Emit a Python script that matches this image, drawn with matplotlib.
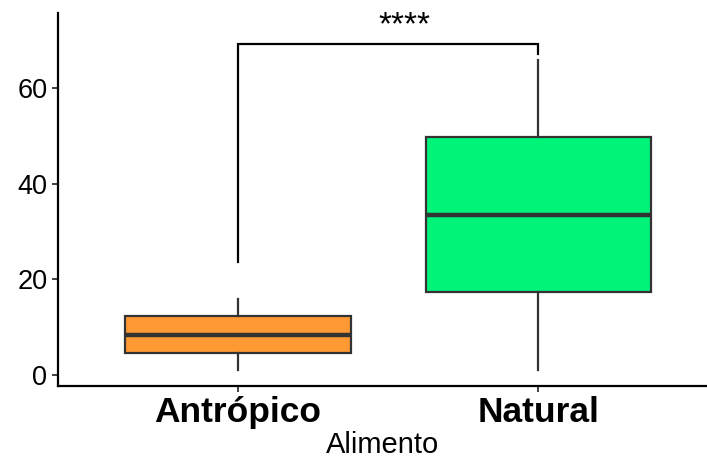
import matplotlib
matplotlib.use("Agg")
import matplotlib.pyplot as plt

plt.rcParams['font.family'] = ['Liberation Sans', 'DejaVu Sans']

# Box summary per food group
categories = ["Antrópico", "Natural"]
whisker_low = [1.1, 1.0]
q1 = [4.7, 17.3]
median = [8.4, 33.5]
q3 = [12.3, 49.7]
whisker_high = [15.9, 66.0]
fill_colors = ["#FF9933", "#00F47A"]

# Significance bracket
bracket_y = 69.2
bracket_left_end = 23.7
bracket_right_end = 67.2
signif_label = "****"

y_ticks = [0, 20, 40, 60]

fig = plt.figure(figsize=(7.07, 4.62), dpi=100)
ax = fig.add_axes([0.0816, 0.1645, 0.9184, 0.808])

positions = list(range(1, len(categories) + 1))
stats = []
for i, name in enumerate(categories):
    stats.append(dict(label=name, whislo=whisker_low[i], q1=q1[i], med=median[i],
                      q3=q3[i], whishi=whisker_high[i], fliers=[]))

bp = ax.bxp(stats, positions=positions, widths=0.75, patch_artist=True,
            showcaps=False, showfliers=False,
            boxprops=dict(edgecolor="#333333", linewidth=1.6),
            whiskerprops=dict(color="#333333", linewidth=1.6),
            medianprops=dict(color="#333333", linewidth=3.2, solid_capstyle="butt"))
for patch, c in zip(bp["boxes"], fill_colors):
    patch.set_facecolor(c)

# Bracket between the two groups
x1, x2 = positions
ax.plot([x1, x1, x2, x2], [bracket_left_end, bracket_y, bracket_y, bracket_right_end],
        color="black", linewidth=1.6, solid_joinstyle="miter")
ax.text(1.553, bracket_y + 0.6, signif_label, ha="center", va="bottom", fontsize=24)

ax.set_xlim(0.4, 2.561)
ax.set_ylim(-2.3, 75.8)
ax.set_yticks(y_ticks)
ax.set_yticklabels([str(t) for t in y_ticks], fontsize=19.5, color="black")
ax.set_xticks(positions)
ax.set_xticklabels(categories, fontsize=25.5, fontweight="bold", color="black")
ax.set_xlabel("Alimento", fontsize=21, labelpad=1)

for side in ["top", "right"]:
    ax.spines[side].set_visible(False)
for side in ["left", "bottom"]:
    ax.spines[side].set_linewidth(1.6)
    ax.spines[side].set_color("black")
ax.tick_params(axis="both", length=4.5, width=1.3, color="#333333", pad=3)

fig.savefig("out.png", dpi=100)
